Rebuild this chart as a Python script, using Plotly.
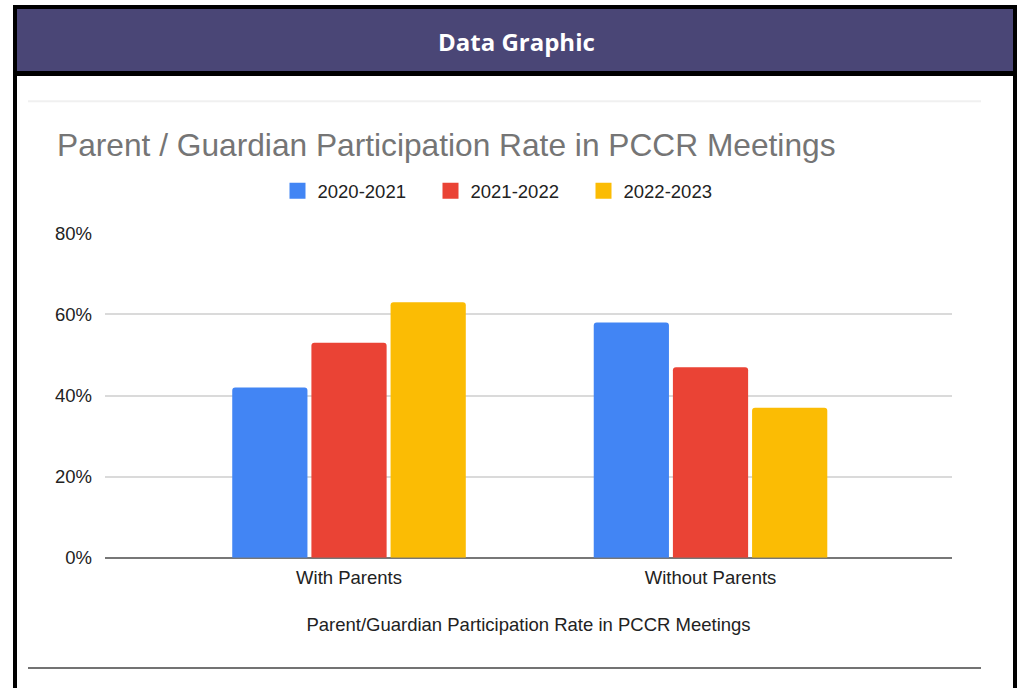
import plotly.graph_objects as go

W = 1017
H_REF = 688    # reference picture height (paper fractions are computed against it)
H = 710        # figure height

categories = ["With Parents", "Without Parents"]
series_names = ["2020-2021", "2021-2022", "2022-2023"]
values_2020 = [0.42, 0.58]
values_2021 = [0.53, 0.47]
values_2022 = [0.63, 0.37]
series_values = [values_2020, values_2021, values_2022]
colors = ["#4285F4", "#EA4335", "#FBBC04"]
y_ticks = [0, 0.2, 0.4, 0.6, 0.8]
y_tick_labels = ["0%", "20%", "40%", "60%", "80%"]

def px(x):
    return x / W

def py(y):
    return 1 - y / H_REF

font_family = "Liberation Sans, Arial, sans-serif"

fig = go.Figure()
for name, vals, col in zip(series_names, series_values, colors):
    fig.add_trace(go.Bar(
        x=categories, y=vals, name=name, legendgroup=name, showlegend=False,
        marker=dict(color=col, line=dict(width=0), cornerradius=3),
        hovertemplate="%{x}<br>" + name + ": %{y:.0%}<extra></extra>",
    ))
for name, col in zip(series_names, colors):
    fig.add_trace(go.Scatter(
        x=[None], y=[None], mode="markers", name=name, legendgroup=name,
        marker=dict(symbol="square", size=18, color=col), hoverinfo="skip",
    ))

shapes = [
    dict(type="rect", xref="paper", yref="paper", x0=px(13), x1=px(1017), y0=py(75), y1=py(4),
         fillcolor="#000000", line=dict(width=0), layer="below"),
    dict(type="rect", xref="paper", yref="paper", x0=px(17), x1=px(1013), y0=py(70), y1=py(8),
         fillcolor="#4A4676", line=dict(width=0), layer="below"),
    dict(type="rect", xref="paper", yref="paper", x0=px(13), x1=px(17), y0=0, y1=py(4),
         fillcolor="#000000", line=dict(width=0), layer="below"),
    dict(type="rect", xref="paper", yref="paper", x0=px(1013), x1=px(1017), y0=0, y1=py(4),
         fillcolor="#000000", line=dict(width=0), layer="below"),
    dict(type="line", xref="paper", yref="paper", x0=px(28), x1=px(981), y0=py(100), y1=py(100),
         line=dict(color="#F0F0F0", width=2), layer="below"),
    dict(type="line", xref="paper", yref="paper", x0=px(28), x1=px(981), y0=py(666), y1=py(666),
         line=dict(color="#444444", width=1.5), layer="below"),
]

annotations = [
    dict(text="<b>Data Graphic</b>", xref="paper", yref="paper", x=px(516), y=py(40),
         xanchor="center", yanchor="middle", showarrow=False,
         font=dict(family="Open Sans, sans-serif", size=24, color="#FFFFFF")),
    dict(text="Parent / Guardian Participation Rate in PCCR Meetings", xref="paper", yref="paper",
         x=px(55), y=py(144), xanchor="left", yanchor="middle", showarrow=False,
         font=dict(family=font_family, size=31.7, color="#757575")),
]

fig.update_layout(
    width=W, height=H,
    margin=dict(l=0, r=0, t=0, b=0),
    paper_bgcolor="#FFFFFF", plot_bgcolor="#FFFFFF",
    barmode="group", bargap=0.343, bargroupgap=0.05,
    font=dict(family=font_family, size=18.5, color="#222222"),
    showlegend=True,
    legend=dict(orientation="h", x=px(507), xanchor="center", y=py(190), yanchor="middle",
                font=dict(size=18.5, color="#222222"), itemclick=False, itemdoubleclick=False,
                traceorder="normal", entrywidth=108, entrywidthmode="pixels"),
    shapes=shapes,
    annotations=annotations,
    xaxis=dict(
        domain=[px(105), px(952)], type="category",
        range=[-0.675, 1.668],
        showgrid=False, showline=False, ticks="", zeroline=False,
        ticklabelstandoff=7,
        tickfont=dict(size=18.5, color="#222222"),
        title=dict(text="Parent/Guardian Participation Rate in PCCR Meetings",
                   font=dict(size=18.5, color="#222222"), standoff=30),
    ),
    yaxis=dict(
        domain=[py(556), py(232)], range=[0, 0.8],
        tickvals=y_ticks, ticktext=y_tick_labels,
        showgrid=True, gridcolor="#DADADA", gridwidth=1.5,
        zeroline=True, zerolinecolor="#777777", zerolinewidth=2,
        showline=False, ticks="", ticklabelstandoff=12,
        tickfont=dict(size=18.5, color="#222222"),
    ),
)

fig.write_html(
    "out.html",
    config={"displayModeBar": False},
    post_script="document.body.style.margin='0';document.body.style.padding='0';"
                "document.documentElement.style.overflow='hidden';"
                "var gd=document.getElementById('{plot_id}');gd.style.marginTop='-10px';",
)
